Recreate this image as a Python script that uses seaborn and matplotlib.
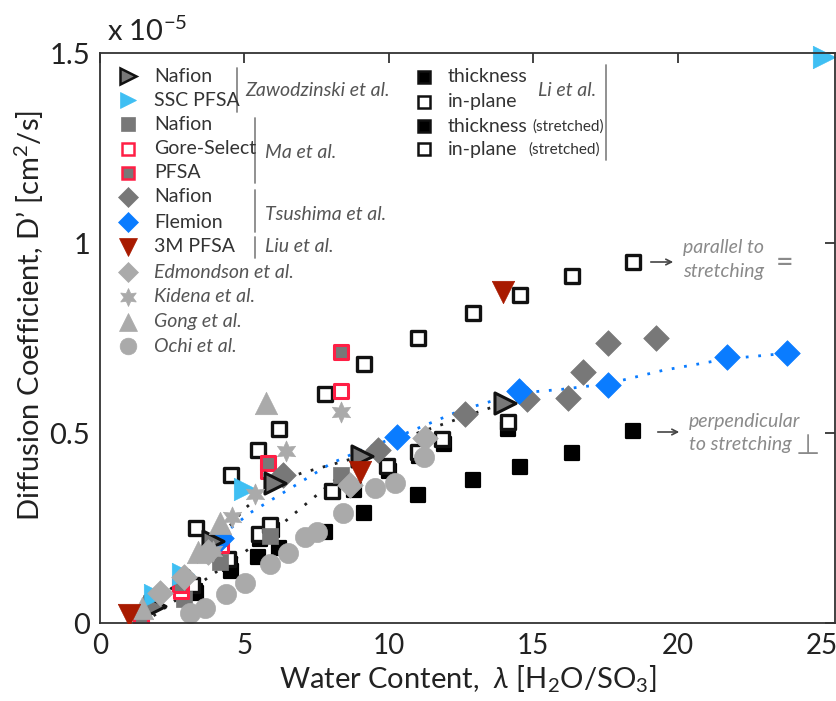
import numpy as np
import pandas as pd
import matplotlib
matplotlib.use("Agg")
import matplotlib.pyplot as plt
import seaborn as sns

# ---------------- data (D' in units of 1e-5 cm^2/s) ----------------
zaw_nafion_x = [1.9, 3.9, 6.07, 9.08, 14.04]
zaw_nafion_y = [0.045, 0.216, 0.368, 0.44, 0.58]
zaw_ssc_x = [1.9, 2.87, 5.03, 25.06]
zaw_ssc_y = [0.074, 0.13, 0.353, 1.49]
ma_nafion_x = [2.9, 4.16, 5.9, 8.35]
ma_nafion_y = [0.063, 0.16, 0.23, 0.39]
ma_gore_x = [1.42, 2.8, 4.2, 5.82, 8.35]
ma_gore_y = [0.02, 0.085, 0.205, 0.40, 0.61]
ma_pfsa_x = [1.42, 2.77, 4.2, 5.82, 8.35]
ma_pfsa_y = [0.01, 0.10, 0.225, 0.42, 0.713]
tsu_nafion_x = [6.33, 9.64, 12.65, 14.8, 16.22, 16.74, 17.6, 19.24]
tsu_nafion_y = [0.39, 0.455, 0.55, 0.59, 0.592, 0.66, 0.737, 0.75]
tsu_flemion_x = [4.2, 10.3, 14.5, 17.6, 21.7, 23.8]
tsu_flemion_y = [0.225, 0.49, 0.61, 0.626, 0.70, 0.71]
liu_x = [1.0, 9.0, 13.97]
liu_y = [0.021, 0.397, 0.87]
edm_x = [2.08, 2.9, 3.75, 8.67, 11.27]
edm_y = [0.079, 0.12, 0.187, 0.363, 0.487]
kid_x = [3.9, 4.58, 5.37, 6.45, 8.35]
kid_y = [0.19, 0.28, 0.34, 0.453, 0.555]
gong_x = [1.45, 3.4, 4.16, 5.75]
gong_y = [0.04, 0.187, 0.263, 0.58]
ochi_x = [3.12, 3.64, 4.37, 5.03, 5.9, 6.52, 7.1, 7.5, 8.42, 9.53, 10.2, 11.23]
ochi_y = [0.026, 0.04, 0.076, 0.105, 0.155, 0.184, 0.226, 0.24, 0.29, 0.355, 0.368, 0.437]
li_inplane_x = [3.2, 4.43, 5.5, 5.9, 8.04, 9.95, 11.0, 11.85, 14.14]
li_inplane_y = [0.10, 0.168, 0.234, 0.258, 0.347, 0.413, 0.45, 0.484, 0.53]
li_thick_x = [3.3, 4.5, 5.55, 5.95, 8.8, 10.0, 11.05, 11.9, 14.14]
li_thick_y = [0.085, 0.155, 0.22, 0.245, 0.35, 0.40, 0.44, 0.47, 0.51]
li_inplane_str_x = [3.33, 4.54, 5.48, 6.2, 7.8, 9.15, 11.02, 12.93, 14.56, 16.36, 18.44]
li_inplane_str_y = [0.25, 0.39, 0.455, 0.51, 0.603, 0.682, 0.75, 0.816, 0.863, 0.913, 0.95]
li_thick_str_x = [3.33, 4.54, 5.48, 6.2, 7.8, 9.15, 11.02, 12.93, 14.56, 16.36, 18.44]
li_thick_str_y = [0.079, 0.137, 0.173, 0.197, 0.24, 0.29, 0.337, 0.376, 0.41, 0.447, 0.505]

# dotted guide curves
fit_upper_x = [1.5, 3.0, 4.2, 5.0, 6.07, 7.0, 8.4, 9.08, 11.0, 12.7, 14.04]
fit_upper_y = [0.02, 0.13, 0.23, 0.30, 0.37, 0.395, 0.425, 0.44, 0.50, 0.545, 0.58]
fit_lower_x = [1.5, 3.0, 4.6, 5.9, 7.0, 7.8, 8.35]
fit_lower_y = [0.0, 0.08, 0.165, 0.235, 0.305, 0.355, 0.39]
fit_blue_x = [4.2, 5.2, 6.5, 8.0, 9.2, 10.3, 12.5, 14.5, 16.0, 17.6, 19.5, 21.7, 23.8]
fit_blue_y = [0.23, 0.29, 0.35, 0.42, 0.46, 0.49, 0.56, 0.605, 0.615, 0.63, 0.665, 0.695, 0.71]

x_ticks = [0, 5, 10, 15, 20, 25]
y_ticks = [0, 0.5, 1, 1.5]
y_ticklabels = ["0", "0.5", "1", "1.5"]

# ---------------- style ----------------
sns.set_style("white")
FONT = ["Lato", "DejaVu Sans"]
plt.rcParams["font.family"] = FONT
plt.rcParams["mathtext.fontset"] = "custom"
plt.rcParams["mathtext.rm"] = "Lato"
plt.rcParams["mathtext.it"] = "Lato:italic"

C_SSC = "#3fbff3"
C_FLEM = "#0a7cff"
C_RED = "#ff1f45"
C_LIU = "#a81a00"
C_DGRAY = "#787878"
C_LGRAY = "#aaaaaa"

W, H = 837, 701
fig = plt.figure(figsize=(W / 100, H / 100), dpi=100)
L, R, T, B = 100, 835, 53, 623
ax = fig.add_axes([L / W, 1 - B / H, (R - L) / W, (B - T) / H])


def P(px, py):
    return ((px - L) / (R - L), (B - py) / (B - T))


def sc(x, y, marker, s, fc, ec, lw, z, clip=True):
    sns.scatterplot(x=x, y=y, ax=ax, marker=marker, s=s, color=fc,
                    edgecolor=ec, linewidth=lw, zorder=z, legend=False)
    ax.collections[-1].set_clip_on(clip)


# dotted lines
for fx, fy, col in [(fit_upper_x, fit_upper_y, "#222222"),
                    (fit_lower_x, fit_lower_y, "#222222"),
                    (fit_blue_x, fit_blue_y, C_FLEM)]:
    sns.lineplot(x=fx, y=fy, ax=ax, color=col, linestyle=(0, (1, 3.5)),
                 linewidth=2.0, sort=False, estimator=None, zorder=1.5)

SQ = 105
sc(li_thick_x, li_thick_y, "s", SQ, "black", "black", 1.6, 2)
sc(li_inplane_x, li_inplane_y, "s", SQ, "white", "#111111", 2.4, 2.01)
sc(li_thick_str_x, li_thick_str_y, "s", SQ, "black", "black", 1.6, 2)
sc(li_inplane_str_x, li_inplane_str_y, "s", SQ, "white", "#111111", 2.4, 2.01)
sc(ma_nafion_x, ma_nafion_y, "s", 120, C_DGRAY, C_DGRAY, 0.5, 2.05)
sc(ma_gore_x, ma_gore_y, "s", SQ, "white", C_RED, 2.2, 2.06)
sc(ma_pfsa_x, ma_pfsa_y, "s", SQ, C_DGRAY, C_RED, 2.2, 2.07)
sc(tsu_nafion_x, tsu_nafion_y, "D", 170, C_DGRAY, C_DGRAY, 0.5, 2.2)
sc(tsu_flemion_x, tsu_flemion_y, "D", 170, C_FLEM, C_FLEM, 0.5, 2.25)
sc(zaw_nafion_x, zaw_nafion_y, ">", 230, C_DGRAY, "#111111", 2.2, 2.3)
sc(zaw_ssc_x, zaw_ssc_y, ">", 260, C_SSC, C_SSC, 0.5, 2.3, clip=False)
sc(ochi_x, ochi_y, "o", 210, C_LGRAY, C_LGRAY, 0.5, 2.5)
sc(gong_x, gong_y, "^", 260, C_LGRAY, C_LGRAY, 0.5, 2.6)
sc(kid_x, kid_y, (6, 1, 0), 230, C_LGRAY, C_LGRAY, 0.5, 2.6)
sc(edm_x, edm_y, "D", 170, C_LGRAY, C_LGRAY, 0.5, 2.7)
sc(liu_x, liu_y, "v", 260, C_LIU, C_LIU, 0.5, 3.4)

# axes
ax.set_xlim(0, 25.45)
ax.set_ylim(0, 1.5)
ax.set_xticks(x_ticks)
ax.set_xticklabels([str(t) for t in x_ticks])
ax.set_yticks(y_ticks)
ax.set_yticklabels(y_ticklabels)
ax.tick_params(direction="in", length=7, width=1.2, top=True, right=True,
               colors="#222222", pad=7)
ax.tick_params(axis="x", labelsize=20)
ax.tick_params(axis="y", labelsize=21)
for sp in ax.spines.values():
    sp.set_visible(True)
    sp.set_color("#333333")
    sp.set_linewidth(1.3)
ax.set_xlabel("Water Content,  $\\lambda$ [H$_2$O/SO$_3$]", fontsize=21,
              color="#222222")
ax.xaxis.set_label_coords(0.5, (B - 679) / (B - T))
ax.xaxis.label.set_va("center")
ax.set_ylabel("Diffusion Coefficient, D\u2019 [cm$^2$/s]", fontsize=21,
              color="#222222")
ax.yaxis.set_label_coords((29 - L) / (R - L), (B - 316) / (B - T))
ax.yaxis.label.set_va("center")
ax.text(*P(107, 31), "x 10$^{-5}$", transform=ax.transAxes, fontsize=21,
        color="#222222", va="center", ha="left")

# ---------------- custom legend ----------------
rows_y = [76, 100, 124, 149, 173, 197, 222, 247, 272, 297, 322, 346]
leg = [
    (">", 11, C_DGRAY, "#111111", 1.8, "Nafion", "normal"),
    (">", 12, C_SSC, C_SSC, 0.5, "SSC PFSA", "normal"),
    ("s", 10, C_DGRAY, C_DGRAY, 0.5, "Nafion", "normal"),
    ("s", 9, "white", C_RED, 1.8, "Gore-Select", "normal"),
    ("s", 9, C_DGRAY, C_RED, 1.8, "PFSA", "normal"),
    ("D", 10, C_DGRAY, C_DGRAY, 0.5, "Nafion", "normal"),
    ("D", 10, C_FLEM, C_FLEM, 0.5, "Flemion", "normal"),
    ("v", 13, C_LIU, C_LIU, 0.5, "3M PFSA", "normal"),
    ("D", 10, C_LGRAY, C_LGRAY, 0.5, "Edmondson et al.", "italic"),
    ((6, 1, 0), 13, C_LGRAY, C_LGRAY, 0.5, "Kidena et al.", "italic"),
    ("^", 13, C_LGRAY, C_LGRAY, 0.5, "Gong et al.", "italic"),
    ("o", 12, C_LGRAY, C_LGRAY, 0.5, "Ochi et al.", "italic"),
]
for (m, ms, fc, ec, lw, lab, sty), py in zip(leg, rows_y):
    ax.plot(*P(128, py), marker=m, markersize=ms, markerfacecolor=fc,
            markeredgecolor=ec, markeredgewidth=lw, transform=ax.transAxes,
            linestyle="none", zorder=5)
    ax.text(*P(154, py), lab, transform=ax.transAxes, fontsize=14,
            style=sty, color="#333333" if sty == "normal" else "#555555",
            va="center", ha="left")

groups = [((237, 68, 112), (245, 90), "Zawodzinski et al."),
          ((255, 118, 183), (265, 153), "Ma et al."),
          ((255, 190, 232), (265, 214), "Tsushima et al."),
          ((255, 237, 258), (265, 247), "Liu et al.")]
for (lx, y0, y1), (tx, ty), lab in groups:
    ax.plot([P(lx, y0)[0], P(lx, y1)[0]], [P(lx, y0)[1], P(lx, y1)[1]],
            transform=ax.transAxes, color="#888888", lw=1.3)
    ax.text(*P(tx, ty), lab, transform=ax.transAxes, fontsize=14,
            style="italic", color="#555555", va="center", ha="left")

li_rows = [(77, "black", "thickness", None), (102, "white", "in-plane", None),
           (126, "black", "thickness", 532),
           (149, "white", "in-plane", 528)]
for py, fc, lab, sx in li_rows:
    ax.plot(*P(424, py), marker="s", markersize=9, markerfacecolor=fc,
            markeredgecolor="#111111", markeredgewidth=1.8,
            transform=ax.transAxes, linestyle="none", zorder=5)
    ax.text(*P(448, py), lab, transform=ax.transAxes, fontsize=14,
            color="#333333", va="center", ha="left")
    if sx is not None:
        ax.text(*P(sx, py + 1), "(stretched)", transform=ax.transAxes,
                fontsize=11, color="#333333", va="center", ha="left")
ax.plot([P(606, 65)[0]] * 2, [P(606, 65)[1], P(606, 160)[1]],
        transform=ax.transAxes, color="#888888", lw=1.3)
ax.text(*P(596, 90), "Li et al.", transform=ax.transAxes, fontsize=14,
        style="italic", color="#555555", va="center", ha="right")

# annotations
ax.annotate("", xy=P(676, 262), xytext=P(648, 262), xycoords="axes fraction",
            arrowprops=dict(arrowstyle="->", color="#444444", lw=1.2))
ax.text(*P(683, 248), "parallel to", transform=ax.transAxes, fontsize=14,
        style="italic", color="#8a8a8a", va="center", ha="left")
ax.text(*P(683, 271), "stretching", transform=ax.transAxes, fontsize=14,
        style="italic", color="#8a8a8a", va="center", ha="left")
ax.text(*P(785, 263), "=", transform=ax.transAxes, fontsize=22,
        color="#8a8a8a", va="center", ha="center")
ax.annotate("", xy=P(682, 432), xytext=P(655, 432), xycoords="axes fraction",
            arrowprops=dict(arrowstyle="->", color="#444444", lw=1.2))
ax.text(*P(689, 421), "perpendicular", transform=ax.transAxes, fontsize=14,
        style="italic", color="#8a8a8a", va="center", ha="left")
ax.text(*P(689, 445), "to stretching", transform=ax.transAxes, fontsize=14,
        style="italic", color="#8a8a8a", va="center", ha="left")
ax.text(*P(808, 446), "\u22a5", transform=ax.transAxes, fontsize=20,
        color="#8a8a8a", va="center", ha="center",
        family=["DejaVu Sans"])

fig.savefig("out.png", dpi=100, facecolor="white")
